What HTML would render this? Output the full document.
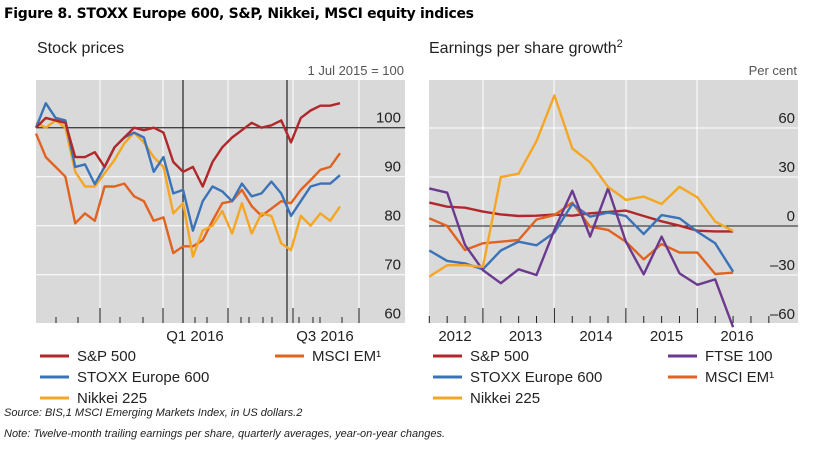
<!DOCTYPE html>
<html><head><meta charset="utf-8"><style>
body{margin:0;background:#fff;width:822px;height:452px;overflow:hidden;font-family:"Liberation Sans",sans-serif;}
svg{position:absolute;left:0;top:0}
</style></head><body>
<svg width="822" height="452">
<text x="4" y="18" font-size="14" font-weight="bold" fill="#000" font-family="DejaVu Sans, sans-serif" textLength="470">Figure 8. STOXX Europe 600, S&amp;P, Nikkei, MSCI equity indices</text>
<text x="37" y="53" font-size="16" fill="#222">Stock prices</text>
<text x="404" y="75" font-size="13" fill="#555" text-anchor="end">1 Jul 2015 = 100</text>
<text x="429" y="53" font-size="16" fill="#222">Earnings per share growth<tspan font-size="11" dy="-6">2</tspan></text>
<text x="797" y="75" font-size="13" fill="#555" text-anchor="end">Per cent</text>
<g id="left"></g><g id="right"></g><g id="legend"></g>
<text x="4" y="416" font-size="11" font-style="italic" fill="#222">Source: BIS,1 MSCI Emerging Markets Index, in US dollars.2</text>
<text x="4" y="437" font-size="11" font-style="italic" fill="#222">Note: Twelve-month trailing earnings per share, quarterly averages, year-on-year changes.</text>
</svg>
<script>
// Left chart data (fortnightly samples)
const leftYTicks=[100,90,80,70,60];
const spx=[100,102,101.5,101,94,94,95,92,96,98,100,99.5,100,99,93,91,92,88,93,96,98,99.5,101,100,100.5,101.5,97,102,103.5,104.5,104.5,105];
const stoxx=[100,105,102,101.5,92,92.5,88.5,92,96,98,99,98,91,94,86.6,87.3,79,85,88,87,85,88.6,86,86.6,89,86.6,82,85,88,88.6,88.6,90.3];
const nikkei=[101,100,101.5,100,91,88,88,90.7,93.4,96.8,99,97,94,92,82.5,84.6,73.7,79,80,83,78.4,84.6,78.4,82.5,82,76.4,75,82,80,82.5,81,83.9];
const msci=[98.8,94,92,90,80.5,82.5,81,88,88,88.6,86,85,81,81.7,74.4,75.8,75.8,77,81,84.6,85,87.3,84,82,83.5,85,84.6,87.3,89.3,91.4,92,94.8];
// Right chart data (quarterly)
const rYTicks=[60,30,0,-30,-60];
const years=["2012","2013","2014","2015","2016"];
const eSpx=[14.3,11.8,11.2,8.8,7.1,6.1,6.3,7,6.3,7.8,8.6,9.4,6.1,2.9,0.2,-2.9,-3.3,-3.3];
const eStoxx=[-15,-21.4,-22.9,-26.5,-15,-9.6,-11.8,-4,13.5,5.7,8.2,6.1,-4.9,6.7,4.7,-3.5,-10.6,-28];
const eNikkei=[-31,-24,-24,-25,30,32,52,80,47.5,39,24,16,18,13.5,24,17.5,2.7,-3];
const eFtse=[23,20.4,-11.6,-27,-35,-26.5,-30,-2.4,21.6,-6.5,23,-9.6,-29.6,-6.5,-29,-36,-32.7,-62];
const eMsci=[4.7,0,-14.7,-10.6,-9.6,-8.6,4,6.7,14.3,-0.4,-2.4,-9.6,-20.4,-11,-16.3,-16.3,-29.4,-28.6];

const C={red:"#b0282a",blue:"#3b73b9",yel:"#f5a623",org:"#e2621f",pur:"#6b3a8e"};
const NS="http://www.w3.org/2000/svg";
function mk(p,t,a){const e=document.createElementNS(NS,t);for(const k in a)e.setAttribute(k,a[k]);p.appendChild(e);return e;}

// LEFT
const L=document.getElementById('left');
const lx=i=>36+i*(340-36)/31, ly=v=>127.7+(100-v)*4.9;
let bg=mk(L,'rect',{x:36,y:80,width:369,height:243,fill:"#d9d9d9"});


[100,163,228,293,359].forEach(x=>mk(L,'line',{x1:x,x2:x,y1:80,y2:323,stroke:"#fff","stroke-width":1}));
leftYTicks.forEach(v=>{if(v!==100)mk(L,'line',{x1:36,x2:405,y1:ly(v),y2:ly(v),stroke:"#fff"});});
[56,78,120,143,195,207,241,249,263,272,299,313,320,342].forEach(x=>mk(L,'line',{x1:x,x2:x,y1:317,y2:323,stroke:"#222"}));
[100,163,228,293,359].forEach(x=>mk(L,'line',{x1:x,x2:x,y1:308,y2:323,stroke:"#222"}));
mk(L,'line',{x1:36,x2:405,y1:ly(100),y2:ly(100),stroke:"#444","stroke-width":1.3});
[183,287].forEach(x=>mk(L,'line',{x1:x,x2:x,y1:80,y2:323,stroke:"#222","stroke-width":1.2}));
leftYTicks.forEach(v=>{const t=mk(L,'text',{x:401,y:ly(v)-5,"font-size":15,fill:"#222","text-anchor":"end"});t.textContent=v;

});
[["Q1 2016",195],["Q3 2016",325]].forEach(([s,x])=>{const t=mk(L,'text',{x:x,y:341,"font-size":15,fill:"#222","text-anchor":"middle"});t.textContent=s;

});
function line(g,arr,fx,fy,col,name){const d=arr.map((v,i)=>(i?'L':'M')+fx(i).toFixed(1)+','+fy(v).toFixed(1)).join('');
const p=mk(g,'path',{d:d,fill:"none",stroke:col,"stroke-width":2.4,"stroke-linejoin":"round"});

}
line(L,msci,lx,ly,C.org,'msci-em-line');
line(L,nikkei,lx,ly,C.yel,'nikkei-line');
line(L,stoxx,lx,ly,C.blue,'stoxx-line');
line(L,spx,lx,ly,C.red,'sp500-line');

// RIGHT
const R=document.getElementById('right');
const rx=i=>429.3+i*17.87, ry=v=>226-v*1.633;
bg=mk(R,'rect',{x:429,y:80,width:369,height:243,fill:"#d9d9d9"});


[483,554,626,697].forEach(x=>mk(R,'line',{x1:x,x2:x,y1:80,y2:323,stroke:"#fff"}));
rYTicks.forEach(v=>{if(v!==0)mk(R,'line',{x1:429,x2:798,y1:ry(v),y2:ry(v),stroke:"#fff"});});
for(let i=0;i<20;i++){const x=429.3+i*17.87;const big=[3,7,11,15].includes(i);mk(R,'line',{x1:x,x2:x,y1:big?308:316,y2:323,stroke:"#222"});}
mk(R,'line',{x1:429,x2:798,y1:ry(0),y2:ry(0),stroke:"#222","stroke-width":1});
rYTicks.forEach(v=>{const t=mk(R,'text',{x:795,y:ry(v)-5,"font-size":15,fill:"#222","text-anchor":"end"});t.textContent=v<0?'\u2013'+(-v):v;

});
years.forEach((s,i)=>{const t=mk(R,'text',{x:455+i*70.5,y:341,"font-size":15,fill:"#222","text-anchor":"middle"});t.textContent=s;

});
line(R,eSpx,rx,ry,C.red,'eps-sp500-line');
line(R,eMsci,rx,ry,C.org,'eps-msci-line');
line(R,eStoxx,rx,ry,C.blue,'eps-stoxx-line');
line(R,eFtse,rx,ry,C.pur,'eps-ftse-line');
line(R,eNikkei,rx,ry,C.yel,'eps-nikkei-line');

// LEGEND
const G=document.getElementById('legend');
[[40,356,C.red,"S&P 500"],[40,377,C.blue,"STOXX Europe 600"],[40,398,C.yel,"Nikkei 225"],[275,356,C.org,"MSCI EM¹"],
 [433,356,C.red,"S&P 500"],[433,377,C.blue,"STOXX Europe 600"],[433,398,C.yel,"Nikkei 225"],[668,356,C.pur,"FTSE 100"],[668,377,C.org,"MSCI EM¹"]].forEach(([x,y,c,s])=>{
 const g=mk(G,'g',{});
 
 
 mk(g,'line',{x1:x,x2:x+29,y1:y,y2:y,stroke:c,"stroke-width":3});
 const t=mk(g,'text',{x:x+37,y:y+5,"font-size":15,fill:"#222"});t.textContent=s;});
</script>
</body></html>
